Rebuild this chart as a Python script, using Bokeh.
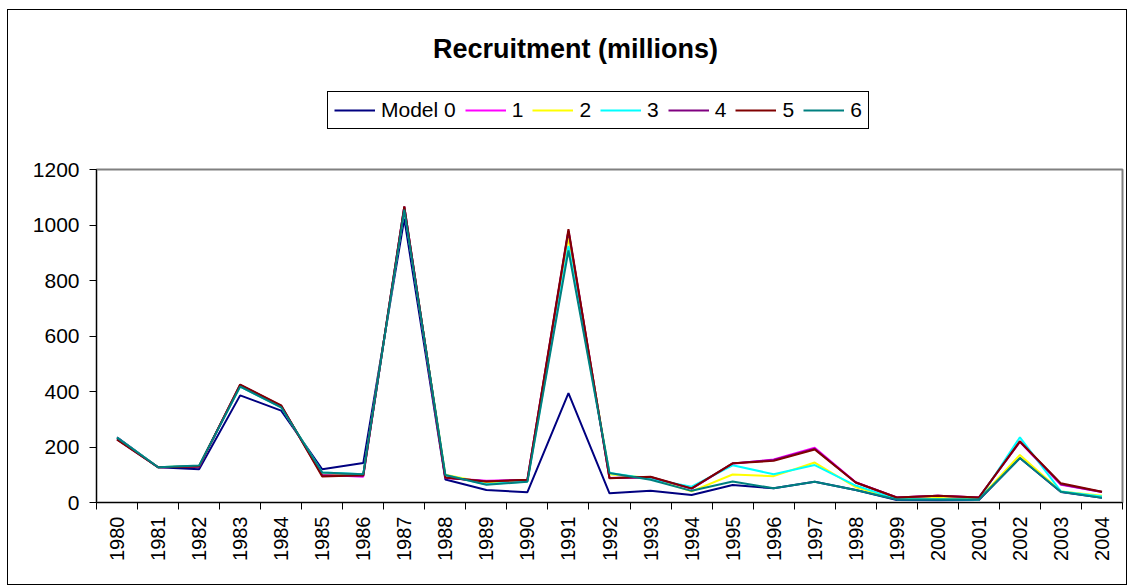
import numpy as np
from bokeh.plotting import figure
from bokeh.models import (Range1d, FixedTicker, Legend, LegendItem, Label)
from bokeh.layouts import column
from bokeh.embed import file_html
from bokeh.resources import INLINE

years = list(range(1980, 2005))
series_names = ["Model 0", "1", "2", "3", "4", "5", "6"]
model0 = [235, 127, 120, 386, 331, 120, 142, 1023, 83, 45, 37, 394, 33, 42, 27, 63, 51, 75, 45, 9, 8, 9, 160, 38, 17]
model1 = [228, 127, 130, 422, 347, 100, 93, 1065, 88, 78, 82, 980, 88, 90, 50, 140, 155, 197, 73, 18, 24, 18, 218, 64, 38]
model2 = [232, 127, 132, 420, 345, 105, 100, 1060, 100, 70, 78, 955, 102, 88, 40, 101, 95, 144, 55, 13, 16, 12, 171, 40, 24]
model3 = [233, 127, 132, 418, 343, 108, 102, 1058, 98, 66, 76, 925, 106, 85, 57, 134, 102, 135, 61, 12, 12, 11, 235, 40, 22]
model4 = [228, 127, 130, 424, 348, 98, 96, 1066, 89, 77, 81, 978, 88, 92, 50, 141, 153, 194, 72, 18, 24, 18, 220, 66, 38]
model5 = [226, 127, 130, 425, 350, 94, 98, 1067, 90, 76, 82, 985, 87, 93, 51, 141, 150, 191, 72, 18, 24, 18, 220, 69, 39]
model6 = [234, 127, 133, 418, 343, 108, 102, 1055, 99, 64, 75, 908, 106, 82, 42, 76, 51, 75, 45, 11, 11, 11, 160, 39, 17]
colors = ["#000080", "#FF00FF", "#FFFF00", "#00FFFF", "#800080", "#800000", "#008080"]
y_ticks = [0, 200, 400, 600, 800, 1000, 1200]
title_text = "Recruitment (millions)"

FONT = "Liberation Sans"
W = 1118
HEAD_H = 140
MAIN_H = 434

# ---- header: title and legend (frame is aligned with the main chart's frame) ----
head = figure(width=W, height=HEAD_H, output_backend="svg", toolbar_location=None,
              x_range=Range1d(0, 1), y_range=Range1d(0, 1),
              x_axis_type=None, y_axis_type=None,
              min_border_left=0, min_border_right=0,
              min_border_top=0, min_border_bottom=0)
head.outline_line_color = None
head.xgrid.visible = False
head.ygrid.visible = False
head.background_fill_color = "white"
head.border_fill_color = "white"

head.add_layout(Label(x=479, y=HEAD_H - 38, x_units="screen", y_units="screen",
                      text=title_text,
                      text_align="center", text_baseline="middle",
                      text_font=FONT, text_font_style="bold", text_font_size="27px",
                      text_color="black"))

items = []
for name, c in zip(series_names, colors):
    r = head.line(x=np.array([np.nan]), y=np.array([np.nan]), line_color=c, line_width=2)
    items.append(LegendItem(label=name, renderers=[r]))

legend = Legend(items=items, orientation="horizontal", location=(231, HEAD_H - 119),
                label_text_font=FONT, label_text_font_size="21px", label_text_color="black",
                glyph_width=41, glyph_height=20, label_standoff=6, spacing=9,
                label_width=0, label_height=0,
                padding=6, margin=0, border_line_color="black", border_line_width=1,
                border_line_alpha=1,
                background_fill_color="white", background_fill_alpha=1)
head.add_layout(legend, "center")

# ---- main chart ----
p = figure(width=W, height=MAIN_H, output_backend="svg", toolbar_location=None,
           x_range=Range1d(years[0] - 0.5, years[-1] + 0.5),
           y_range=Range1d(0, 1200),
           min_border_left=88, min_border_right=4, min_border_top=19, min_border_bottom=82)
p.background_fill_color = "white"
p.border_fill_color = "white"
p.outline_line_color = "#808080"
p.outline_line_width = 2
p.xgrid.visible = False
p.ygrid.visible = False

all_series = [model0, model1, model2, model3, model4, model5, model6]
for vals, c in zip(all_series, colors):
    p.line(years, vals, line_color=c, line_width=2)

xa = p.xaxis[0]
xa.ticker = FixedTicker(ticks=years, minor_ticks=[y - 0.5 for y in years] + [years[-1] + 0.5])
xa.major_tick_line_color = None
xa.major_tick_out = 7
xa.major_tick_in = 0
xa.minor_tick_line_color = "black"
xa.minor_tick_out = 7
xa.minor_tick_in = 0
xa.major_label_orientation = 1.5707963
xa.major_label_standoff = 7
xa.major_label_text_font = FONT
xa.major_label_text_font_size = "20px"
xa.major_label_text_color = "black"
xa.axis_line_color = "black"
xa.axis_line_width = 1

ya = p.yaxis[0]
ya.ticker = FixedTicker(ticks=y_ticks, minor_ticks=[])
ya.major_tick_out = 7
ya.major_tick_in = 0
ya.major_tick_line_color = "black"
ya.minor_tick_line_color = None
ya.major_label_standoff = 10
ya.major_label_text_font = FONT
ya.major_label_text_font_size = "21px"
ya.major_label_text_color = "black"
ya.axis_line_color = "black"
ya.axis_line_width = 1

layout = column(head, p, spacing=0)
layout.styles = {"border": "1px solid black", "margin-left": "7px", "margin-top": "9px"}

open("out.html", "w").write(file_html(layout, INLINE))
